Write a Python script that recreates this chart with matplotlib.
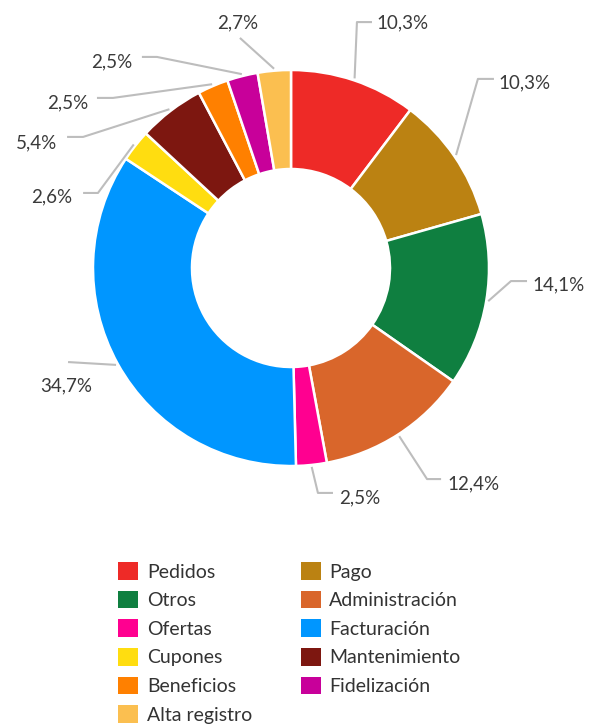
import numpy as np
import matplotlib.pyplot as plt

plt.rcParams['font.family'] = ['Lato', 'DejaVu Sans']

categories = ['Pedidos', 'Pago', 'Otros', 'Administración', 'Ofertas', 'Facturación',
              'Cupones', 'Mantenimiento', 'Beneficios', 'Fidelización', 'Alta registro']
values = [10.3, 10.3, 14.1, 12.4, 2.5, 34.7, 2.6, 5.4, 2.5, 2.5, 2.7]
colors = ['#EE2A27', '#BB8212', '#0F7F40', '#D9662B', '#FF0090', '#0096FF',
          '#FFDD10', '#7D1710', '#FF8000', '#C8009A', '#FBBF50']

# label layout (pie units): elbow point, end of horizontal tick, text pos, alignment
elbows = [(0.333, 1.242), (0.944, 0.955), (1.111, -0.066), (0.687, -1.066), (0.136, -1.136),
          (-1.126, -0.475), (-0.975, 0.379), (-1.05, 0.662), (-0.899, 0.859), (-0.677, 1.066),
          (-0.258, 1.162)]
ends = [(0.409, 1.242), (1.025, 0.955), (1.192, -0.066), (0.758, -1.066), (0.212, -1.136),
        None, (-1.05, 0.379), (-1.131, 0.662), (-0.980, 0.859), (-0.753, 1.066), None]
texts = [(0.434, 1.236, 'left'), (1.05, 0.936, 'left'), (1.217, -0.084, 'left'),
         (0.788, -1.090, 'left'), (0.245, -1.160, 'left'), (-1.136, -0.593, 'center'),
         (-1.106, 0.359, 'right'), (-1.182, 0.631, 'right'), (-1.025, 0.833, 'right'),
         (-0.803, 1.040, 'right'), (-0.268, 1.240, 'center')]

fig = plt.figure(figsize=(5.89, 7.24), dpi=100)
ax = fig.add_axes([0, 0, 1, 1])
r_px = 198
cx, cy = 291, 268

wedges, _ = ax.pie(values, colors=colors, startangle=90, counterclock=False,
                   radius=1.0, wedgeprops=dict(width=0.5, edgecolor='white', linewidth=1.8))
ax.set_xlim(-cx / r_px, (589 - cx) / r_px)
ax.set_ylim(-(724 - cy) / r_px, cy / r_px)
ax.axis('off')

line_col = '#BDBDBD'
for w, v, el, en, (tx, ty, ha) in zip(wedges, values, elbows, ends, texts):
    ang = np.deg2rad((w.theta1 + w.theta2) / 2)
    p0 = (1.01 * np.cos(ang), 1.01 * np.sin(ang))
    xs = [p0[0], el[0]]
    ys = [p0[1], el[1]]
    if en is not None:
        xs.append(en[0])
        ys.append(en[1])
    ax.plot(xs, ys, color=line_col, lw=1.5, solid_capstyle='butt')
    ax.text(tx, ty, f'{v:.1f}%'.replace('.', ','), ha=ha, va='center',
            fontsize=13.5, fontweight='normal', color='#3a3a3a')

order = [0, 2, 4, 6, 8, 10, 1, 3, 5, 7, 9]
leg = ax.legend([wedges[i] for i in order], [categories[i] for i in order],
                ncol=2, loc='upper left', bbox_to_anchor=(118 / 589, 1 - 562 / 724),
                bbox_transform=fig.transFigure, frameon=False, fontsize=14,
                handlelength=1.03, handleheight=1.03, labelspacing=0.52,
                handletextpad=0.45, columnspacing=2.5, borderpad=0, borderaxespad=0)
for t in leg.get_texts():
    t.set_color('#333333')
for h in leg.legend_handles:
    h.set_edgecolor('none')

fig.savefig('out.png', dpi=100)
